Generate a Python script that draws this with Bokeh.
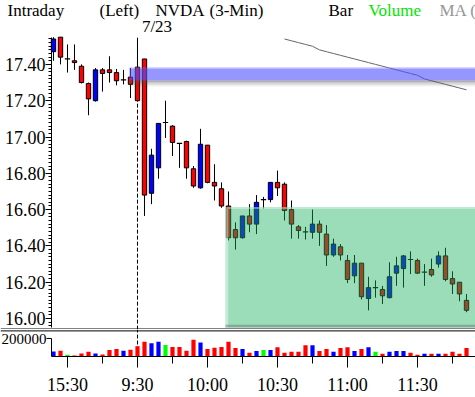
from bokeh.plotting import figure
from bokeh.models import (Range1d, ColumnDataSource, SingleIntervalTicker, FixedTicker,
                          NumeralTickFormatter, Span, Label)
from bokeh.layouts import column
from bokeh.embed import file_html
from bokeh.resources import INLINE

# ---------------- data (3-minute bars, index 0 = 9:30 on 7/23) ----------------
bars = list(range(-12, 48))
opens = [17.47, 17.55, 17.43, 17.42, 17.39, 17.295, 17.20, 17.37, 17.37, 17.355, 17.315, 17.33, 17.385,
         17.43, 16.69, 16.83, 17.08, 17.06, 16.965, 16.975, 16.825, 16.72, 16.955, 16.75, 16.715,
         16.62, 16.49, 16.445, 16.565, 16.52, 16.655, 16.655, 16.75, 16.74,
         16.60, 16.505, 16.477, 16.475, 16.52, 16.465, 16.35, 16.395, 16.32, 16.235, 16.305, 16.11,
         16.17, 16.16, 16.115, 16.25, 16.275, 16.325, 16.32, 16.255, 16.27, 16.30, 16.345, 16.22,
         16.20, 16.10]
highs = [17.55, 17.55, 17.51, 17.51, 17.40, 17.30, 17.38, 17.38, 17.445, 17.375, 17.37, 17.38, 17.535,
         17.43, 16.935, 17.075, 17.20, 17.065, 16.965, 16.98, 16.84, 17.045, 16.955, 16.85, 16.75,
         16.70, 16.53, 16.565, 16.63, 16.68, 16.67, 16.75, 16.815, 16.75,
         16.65, 16.515, 16.505, 16.60, 16.54, 16.515, 16.44, 16.41, 16.35, 16.35, 16.305, 16.23,
         16.21, 16.18, 16.31, 16.34, 16.35, 16.37, 16.33, 16.30, 16.33, 16.37, 16.39, 16.26,
         16.20, 16.135]
lows = [17.42, 17.40, 17.355, 17.37, 17.295, 17.12, 17.195, 17.25, 17.30, 17.285, 17.29, 17.215, 17.20,
        16.565, 16.63, 16.77, 16.995, 16.895, 16.83, 16.77, 16.72, 16.715, 16.745, 16.65, 16.61,
        16.43, 16.38, 16.44, 16.475, 16.465, 16.605, 16.64, 16.675, 16.54,
        16.44, 16.44, 16.435, 16.44, 16.40, 16.29, 16.34, 16.32, 16.195, 16.195, 16.105, 16.045,
        16.115, 16.08, 16.11, 16.18, 16.17, 16.245, 16.245, 16.18, 16.23, 16.28, 16.205, 16.135,
        16.095, 16.035]
closes = [17.54, 17.44, 17.43, 17.41, 17.30, 17.21, 17.37, 17.35, 17.355, 17.31, 17.317, 17.29, 17.20,
          16.68, 16.90, 17.075, 17.08, 16.97, 16.962, 16.83, 16.73, 16.96, 16.75, 16.73, 16.62,
          16.445, 16.445, 16.565, 16.52, 16.64, 16.655, 16.75, 16.72, 16.595,
          16.52, 16.485, 16.475, 16.52, 16.475, 16.35, 16.41, 16.35, 16.215, 16.305, 16.12, 16.17,
          16.17, 16.125, 16.23, 16.29, 16.345, 16.323, 16.25, 16.257, 16.24, 16.345, 16.215, 16.19,
          16.135, 16.045]
volumes = [56000, 66000, 21000, 11000, 35000, 53000, 35000, 24000, 74000, 84000, 66000, 77000, 116000,
           168000, 150000, 168000, 129000, 108000, 108000, 66000, 189000, 158000, 84000, 98000, 108000,
           168000, 95000, 84000, 42000, 63000, 74000, 74000, 105000, 42000,
           53000, 53000, 126000, 126000, 63000, 84000, 53000, 95000, 105000, 63000, 84000, 105000,
           53000, 32000, 53000, 63000, 63000, 42000, 21000, 32000, 32000, 32000, 32000, 53000,
           32000, 95000]
ma_bars = list(range(21, 48))
ma_values = [17.54, 17.53, 17.52, 17.51, 17.50, 17.48, 17.47, 17.46, 17.45, 17.44, 17.43, 17.42,
             17.41, 17.40, 17.39, 17.38, 17.37, 17.36, 17.35, 17.34, 17.32, 17.31, 17.30, 17.29,
             17.28, 17.27, 17.26]
tick_bars = [-10, 0, 10, 20, 30, 40]
tick_labels = ["15:30", "9:30", "10:00", "10:30", "11:00", "11:30"]
minor_tick_bars = [-5, 5, 15, 25, 35, 45]
volume_tick = 200000
session_start = 0
date_label = "7/23"
# resistance band and support zone
band_start = -1.15
band_bottom, band_core_bottom, band_core_top, band_top = 17.278, 17.311, 17.377, 17.385
zone_start = 12.57
zone_top = 16.615
header = [("Intraday", "black"), ("(Left)", "black"), ("NVDA", "black"), ("(3-Min)", "black"),
          ("Bar", "black"), ("Volume", "#00E600"), ("MA (", "#969696")]

# ---------------- derived ----------------
up = [c > o for o, c in zip(opens, closes)]
doji = [abs(c - o) < 0.004 for o, c in zip(opens, closes)]
body = dict(x=[], top=[], bottom=[], color=[])
dj = dict(x0=[], x1=[], y=[])
for b, o, c, u, d in zip(bars, opens, closes, up, doji):
    if d:
        dj["x0"].append(b - 0.38); dj["x1"].append(b + 0.38); dj["y"].append(o)
    else:
        body["x"].append(b); body["top"].append(max(o, c)); body["bottom"].append(min(o, c))
        body["color"].append("#0000FF" if u else "#FF0000")
vol_colors = ["#0000FF" if c > o else ("#FF0000" if c < o else "#00FF00") for o, c in zip(opens, closes)]

FONT = "Liberation Sans Narrow"
W = 475
XR = Range1d(-19.571, 48.286)        # 7 px per bar, frame spans the full width
AX_X = -12.286                       # x position of the price / volume axes
Y0, Y1 = 15.9394, 17.7521            # price frame (page rows 0..329)
PBOT, PTOP = 15.9504, 17.548         # price area bottom / top
XEND = 50

# ---------------- price panel ----------------
p = figure(width=W, height=329, x_range=XR, y_range=Range1d(Y0, Y1),
           output_backend="svg", toolbar_location=None, x_axis_location=None,
           min_border_left=0, min_border_right=0, min_border_top=0, min_border_bottom=0)
p.outline_line_color = None
p.grid.visible = False
p.background_fill_color = "white"
p.border_fill_color = "white"

ya = p.yaxis[0]
ya.fixed_location = AX_X
ya.bounds = (PBOT, PTOP)
ya.ticker = SingleIntervalTicker(interval=0.2, num_minor_ticks=10)
ya.formatter = NumeralTickFormatter(format="0.00")
ya.major_tick_out = 6
ya.major_tick_in = 0
ya.minor_tick_out = 3
ya.minor_tick_in = 0
ya.major_label_standoff = 0
ya.major_label_text_font = FONT
ya.major_label_text_font_size = "18px"
ya.major_label_text_color = "black"
ya.axis_line_color = "black"

p.segment(x0=[session_start], y0=[Y0 - 0.1], x1=[session_start], y1=[PTOP],
          line_color="black", line_dash="4 2", line_width=1)

p.segment(x0=bars, y0=lows, x1=bars, y1=highs, line_color="black", line_width=1)
p.vbar(x="x", top="top", bottom="bottom", width=0.62, fill_color="color", line_color="black",
       line_width=1, source=ColumnDataSource(body))
p.segment(x0="x0", y0="y", x1="x1", y1="y", line_color="black", line_width=1.2,
          source=ColumnDataSource(dj))
p.line(ma_bars, ma_values, line_color="#666666", line_width=1)

# resistance band (translucent blue with soft edges)
p.quad(left=band_start, right=XEND, bottom=band_core_bottom, top=band_core_top,
       fill_color="#5050FF", fill_alpha=0.6, line_color=None)
p.quad(left=band_start, right=XEND, bottom=band_core_top, top=band_top,
       fill_color="#7878FF", fill_alpha=0.4, line_color=None)
sh = (band_core_bottom - band_bottom) / 4
for i, a in enumerate([0.45, 0.3, 0.18, 0.08]):
    p.quad(left=band_start, right=XEND, bottom=band_core_bottom - (i + 1) * sh,
           top=band_core_bottom - i * sh, fill_color="#505050", fill_alpha=a, line_color=None)

# support zone (translucent green)
p.quad(left=zone_start, right=XEND, bottom=PBOT, top=zone_top,
       fill_color="#17AE5D", fill_alpha=0.43, line_color=None)
p.quad(left=zone_start, right=XEND, bottom=zone_top - 0.012, top=zone_top,
       fill_color="white", fill_alpha=0.35, line_color=None)
p.quad(left=zone_start, right=zone_start + 0.4, bottom=PBOT, top=zone_top - 0.012,
       fill_color="white", fill_alpha=0.4, line_color=None)
p.quad(left=zone_start, right=XEND, bottom=PBOT, top=PBOT + 0.015,
       fill_color="#404040", fill_alpha=0.3, line_color=None)

# first of the two separator lines
p.add_layout(Span(location=15.9421, dimension="width", line_color="black", line_width=1))

# header texts
hx = [-18.571, -5.429, 2.571, 10.286, 27.286, 33.0, 43.143]
for (t, col), x in zip(header, hx):
    p.add_layout(Label(x=x, y=17.697, text=t, text_color=col, text_font=FONT,
                       text_font_size="17px", text_baseline="alphabetic", text_align="left"))
p.add_layout(Label(x=2.786, y=17.609, text=date_label, text_color="black", text_font=FONT,
                   text_font_size="17px", text_baseline="alphabetic", text_align="center"))

# ---------------- volume panel ----------------
v = figure(width=W, height=68, x_range=XR, y_range=Range1d(0, 305263),
           output_backend="svg", toolbar_location=None,
           min_border_left=0, min_border_right=0, min_border_top=0, min_border_bottom=39)
v.outline_line_color = None
v.grid.visible = False
v.background_fill_color = "white"
v.border_fill_color = "white"
# second separator line
v.add_layout(Span(location=289474, dimension="width", line_color="black", line_width=1))
v.segment(x0=[session_start], y0=[0], x1=[session_start], y1=[305263],
          line_color="black", line_dash="4 2", line_width=1)
v.vbar(x=bars, top=volumes, width=0.6, fill_color=vol_colors, line_color=None)

xa = v.xaxis[0]
xa.bounds = (AX_X, XEND)
xa.ticker = FixedTicker(ticks=tick_bars, minor_ticks=minor_tick_bars)
xa.major_label_overrides = {t: l for t, l in zip(tick_bars, tick_labels)}
xa.major_tick_out = 11
xa.major_tick_in = 0
xa.minor_tick_out = 7
xa.minor_tick_in = 0
xa.major_label_standoff = 7
xa.major_label_text_font = FONT
xa.major_label_text_font_size = "18px"
xa.major_label_text_color = "black"
xa.axis_line_color = "black"

vy = v.yaxis[0]
vy.fixed_location = AX_X
vy.ticker = FixedTicker(ticks=[volume_tick], minor_ticks=[])
vy.formatter = NumeralTickFormatter(format="0")
vy.bounds = (0, volume_tick)
vy.major_tick_out = 5
vy.major_tick_in = 0
vy.minor_tick_out = 0
vy.major_label_standoff = 0
vy.major_label_text_font = FONT
vy.major_label_text_font_size = "15px"
vy.major_label_text_color = "black"
vy.axis_line_color = "black"

layout = column(p, v, spacing=0)
open("out.html", "w").write(file_html(layout, INLINE))
